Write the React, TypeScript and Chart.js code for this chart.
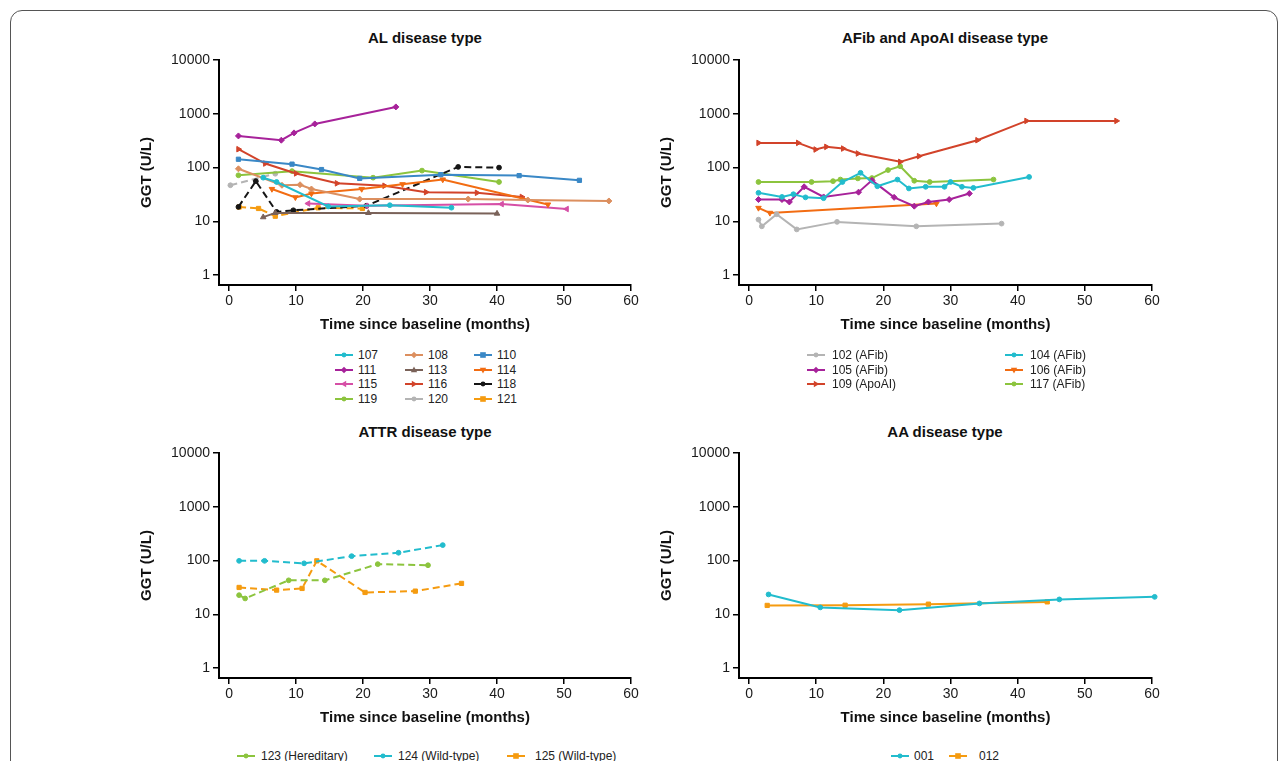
import React, { useEffect, useRef } from "react";
import { Chart, registerables } from "chart.js";
Chart.register(...registerables);

const FONT = "'Liberation Sans', Arial, Helvetica, sans-serif";

const xTickValues = [0, 10, 20, 30, 40, 50, 60];
const yTickValues = [1, 10, 100, 1000, 10000];

// ---------- AL disease type ----------
const al107X = [5.1, 7.1, 14.8, 24.0, 33.2];
const al107Y = [65, 54, 19, 20, 18];
const al108X = [1.4, 7.9, 10.6, 12.3, 19.5, 35.7, 44.6, 56.7];
const al108Y = [95, 47, 48, 40, 26, 26, 25, 24];
const al110X = [1.4, 9.4, 13.8, 19.5, 31.6, 43.3, 52.3];
const al110Y = [143, 116, 92, 63, 74, 71, 58];
const al111X = [1.4, 7.8, 9.7, 12.8, 24.9];
const al111Y = [388, 323, 442, 649, 1343];
const al113X = [5.1, 6.9, 20.8, 40.0];
const al113Y = [12, 14.4, 14.4, 14];
const al114X = [6.4, 9.9, 12.3, 19.8, 25.9, 31.9, 47.6];
const al114Y = [40, 28, 33, 40, 49, 60, 20.6];
const al115X = [11.8, 20.5, 40.7, 50.4];
const al115Y = [21.5, 19.5, 21, 17];
const al116X = [1.4, 5.4, 10, 16.1, 23.2, 29.4, 37, 43.7];
const al116Y = [220, 119, 78, 51, 46, 35, 34, 28.5];
const al118X = [1.4, 4.0, 7.1, 9.6, 20.5, 34.2, 40.3];
const al118Y = [18.6, 56, 15, 16.1, 19.5, 103, 100];
const al119X = [1.4, 9.4, 21.5, 28.8, 40.3];
const al119Y = [72, 86, 65, 88, 54];
const al120X = [0.2, 6.9];
const al120Y = [47, 77];
const al121X = [1.5, 4.4, 6.9, 13.3, 19.9];
const al121Y = [18.5, 17.4, 12.5, 17.9, 17.4];

// ---------- AFib and ApoAI disease type ----------
const af102X = [1.4, 1.9, 4.1, 7.1, 13.1, 24.9, 37.6];
const af102Y = [10.8, 8.1, 13.6, 7.1, 9.8, 8.1, 9.1];
const af104X = [1.4, 4.9, 6.6, 8.4, 11.1, 13.9, 16.6, 19.1, 22.1, 23.8, 26.3, 29.1, 30.0, 31.7, 33.4, 41.7];
const af104Y = [34, 28.5, 32, 28, 27, 54, 80, 45, 60, 41, 44, 44, 54, 44, 42, 67];
const af105X = [1.4, 4.9, 6.0, 8.2, 11.1, 16.3, 18.3, 21.6, 24.6, 26.7, 29.8, 32.8];
const af105Y = [25.5, 25.5, 23, 44, 28.5, 35, 58, 28, 19.2, 23, 25.5, 33];
const af106X = [1.4, 3.1, 27.9];
const af106Y = [17.8, 14.4, 21.5];
const af109X = [1.4, 7.3, 9.9, 11.5, 14.0, 16.2, 22.5, 25.3, 34.0, 41.3, 54.7];
const af109Y = [288, 288, 217, 243, 226, 183, 128, 163, 323, 738, 738];
const af117X = [1.4, 9.3, 12.5, 13.6, 16.2, 18.3, 20.7, 22.5, 24.6, 26.9, 36.4];
const af117Y = [54, 54, 56, 60, 63, 64, 90, 106, 57, 54, 60];

// ---------- ATTR disease type ----------
const at123X = [1.5, 2.4, 8.9, 14.3, 22.2, 29.7];
const at123Y = [22.8, 19.8, 43, 43, 86, 82];
const at124X = [1.5, 5.3, 11.2, 18.3, 25.3, 31.9];
const at124Y = [99, 99, 89, 121, 140, 194];
const at125X = [1.5, 7.1, 10.9, 13.1, 20.3, 27.8, 34.7];
const at125Y = [31.7, 28.3, 30.4, 99, 25.6, 27.1, 37.7];

// ---------- AA disease type ----------
const aa001X = [2.9, 10.6, 22.4, 34.3, 46.2, 60.4];
const aa001Y = [23.5, 13.5, 12, 16, 19, 21.2];
const aa012X = [2.7, 14.3, 26.7, 44.4];
const aa012Y = [14.7, 14.8, 15.5, 17.1];

type Shape = "circle" | "square" | "diamond" | "triUp" | "triDown" | "triLeft" | "triRight";
type Series = { label: string; x: number[]; y: number[]; color: string; shape: Shape; dash?: boolean };

const C = {
  cyan: "#22bccd",
  tan: "#dc8f5f",
  blue: "#3a88c6",
  magenta: "#a7229a",
  brown: "#7a6259",
  orange: "#f26c12",
  pink: "#d64fa6",
  red: "#d2432a",
  black: "#151515",
  green: "#8cc43e",
  grey: "#b4b4b4",
  amber: "#f59b10",
};

const alSeries: Series[] = [
  { label: "107", x: al107X, y: al107Y, color: C.cyan, shape: "circle" },
  { label: "108", x: al108X, y: al108Y, color: C.tan, shape: "diamond" },
  { label: "110", x: al110X, y: al110Y, color: C.blue, shape: "square" },
  { label: "111", x: al111X, y: al111Y, color: C.magenta, shape: "diamond" },
  { label: "113", x: al113X, y: al113Y, color: C.brown, shape: "triUp" },
  { label: "114", x: al114X, y: al114Y, color: C.orange, shape: "triDown" },
  { label: "115", x: al115X, y: al115Y, color: C.pink, shape: "triLeft" },
  { label: "116", x: al116X, y: al116Y, color: C.red, shape: "triRight" },
  { label: "118", x: al118X, y: al118Y, color: C.black, shape: "circle", dash: true },
  { label: "119", x: al119X, y: al119Y, color: C.green, shape: "circle" },
  { label: "120", x: al120X, y: al120Y, color: C.grey, shape: "circle", dash: true },
  { label: "121", x: al121X, y: al121Y, color: C.amber, shape: "square", dash: true },
];

const afSeries: Series[] = [
  { label: "102 (AFib)", x: af102X, y: af102Y, color: C.grey, shape: "circle" },
  { label: "104 (AFib)", x: af104X, y: af104Y, color: C.cyan, shape: "circle" },
  { label: "105 (AFib)", x: af105X, y: af105Y, color: C.magenta, shape: "diamond" },
  { label: "106 (AFib)", x: af106X, y: af106Y, color: C.orange, shape: "triDown" },
  { label: "109 (ApoAI)", x: af109X, y: af109Y, color: C.red, shape: "triRight" },
  { label: "117 (AFib)", x: af117X, y: af117Y, color: C.green, shape: "circle" },
];

const atSeries: Series[] = [
  { label: "123 (Hereditary)", x: at123X, y: at123Y, color: C.green, shape: "circle", dash: true },
  { label: "124 (Wild-type)", x: at124X, y: at124Y, color: C.cyan, shape: "circle", dash: true },
  { label: "125 (Wild-type)", x: at125X, y: at125Y, color: C.amber, shape: "square", dash: true },
];

const aaSeries: Series[] = [
  { label: "001", x: aa001X, y: aa001Y, color: C.cyan, shape: "circle" },
  { label: "012", x: aa012X, y: aa012Y, color: C.amber, shape: "square" },
];

function styleFor(shape: Shape): { pointStyle: any; rot: number; r: number } {
  switch (shape) {
    case "circle": return { pointStyle: "circle", rot: 0, r: 2.4 };
    case "square": return { pointStyle: "rect", rot: 0, r: 3 };
    case "diamond": return { pointStyle: "rectRot", rot: 0, r: 3 };
    case "triUp": return { pointStyle: "triangle", rot: 0, r: 3.2 };
    case "triDown": return { pointStyle: "triangle", rot: 180, r: 3.2 };
    case "triLeft": return { pointStyle: "triangle", rot: 270, r: 3.2 };
    case "triRight": return { pointStyle: "triangle", rot: 90, r: 3.2 };
  }
}

type PanelProps = { series: Series[]; left: number; top: number; padRight: number };

function PanelChart({ series, left, top, padRight }: PanelProps) {
  const ref = useRef<HTMLCanvasElement | null>(null);
  useEffect(() => {
    if (!ref.current) return;
    const tickFont = { family: FONT, size: 14 };
    const titleFont = { family: FONT, size: 15, weight: "bold" as const };
    const chart = new Chart(ref.current, {
      type: "line",
      data: {
        datasets: series.map((s) => {
          const st = styleFor(s.shape);
          return {
            label: s.label,
            data: s.x.map((x, i) => ({ x, y: s.y[i] })),
            borderColor: s.color,
            backgroundColor: s.color,
            borderWidth: 2,
            borderDash: s.dash ? [7, 4] : [],
            pointStyle: st.pointStyle,
            pointRotation: st.rot,
            pointRadius: st.r,
            pointBorderWidth: 1,
            tension: 0,
            fill: false,
            clip: false as any,
          };
        }),
      },
      options: {
        responsive: false,
        animation: false,
        events: [],
        layout: { padding: { left: 0, right: padRight, top: 40, bottom: 0 } },
        plugins: { legend: { display: false }, tooltip: { enabled: false }, title: { display: false } },
        scales: {
          x: {
            type: "linear",
            min: -1.5,
            max: 60,
            afterBuildTicks: (s: any) => { s.ticks = xTickValues.map((v) => ({ value: v })); },
            afterFit: (s: any) => { s.height = 55; },
            ticks: { font: tickFont, color: "#1a1a1a", padding: 2, autoSkip: false, maxRotation: 0 },
            grid: { display: true, drawOnChartArea: false, drawTicks: true, tickLength: 6, color: "#000", lineWidth: 1.5 },
            border: { display: true, color: "#000", width: 2 },
            title: { display: true, text: "Time since baseline (months)", font: titleFont, color: "#111", padding: { top: 0, bottom: 6 } },
          },
          y: {
            type: "logarithmic",
            min: 0.658,
            max: 10000,
            afterBuildTicks: (s: any) => { s.ticks = yTickValues.map((v) => ({ value: v })); },
            afterFit: (s: any) => { s.width = 99; },
            ticks: { font: tickFont, color: "#1a1a1a", padding: 3, autoSkip: false, callback: (v: any) => String(v) },
            grid: { display: true, drawOnChartArea: false, drawTicks: true, tickLength: 6, color: "#000", lineWidth: 1.5 },
            border: { display: true, color: "#000", width: 2 },
            title: { display: true, text: "GGT (U/L)", font: titleFont, color: "#111", padding: { top: 18, bottom: 0 } },
          },
        },
      } as any,
    });
    return () => chart.destroy();
  }, [series, padRight]);
  return (
    <canvas
      ref={ref}
      width={530}
      height={320}
      style={{ position: "absolute", left, top, width: 530, height: 320 }}
    />
  );
}

function Marker({ shape, color }: { shape: Shape; color: string }) {
  const cx = 9, cy = 5;
  let m: React.ReactNode = null;
  if (shape === "circle") m = <circle cx={cx} cy={cy} r={2.4} fill={color} />;
  else if (shape === "square") m = <rect x={cx - 2.8} y={cy - 2.8} width={5.6} height={5.6} fill={color} />;
  else if (shape === "diamond") m = <polygon points={`${cx},${cy - 3.3} ${cx + 3.3},${cy} ${cx},${cy + 3.3} ${cx - 3.3},${cy}`} fill={color} />;
  else {
    const rot = shape === "triUp" ? 0 : shape === "triDown" ? 180 : shape === "triRight" ? 90 : 270;
    m = <polygon points={`${cx},${cy - 3.4} ${cx + 3.2},${cy + 2.2} ${cx - 3.2},${cy + 2.2}`} fill={color} transform={`rotate(${rot} ${cx} ${cy})`} />;
  }
  return (
    <svg width={18} height={10} style={{ position: "absolute", left: 0, top: -5 }}>
      <line x1={0} y1={cy} x2={18} y2={cy} stroke={color} strokeWidth={2} />
      {m}
    </svg>
  );
}

type LegendPos = { x: number; y: number; tx: number };

function LegendItem({ s, p }: { s: Series; p: LegendPos }) {
  return (
    <div style={{ position: "absolute", left: p.x, top: p.y, height: 0 }}>
      <Marker shape={s.shape} color={s.color} />
      <span
        style={{
          position: "absolute",
          left: p.tx - p.x,
          top: -8,
          fontFamily: FONT,
          fontSize: 12,
          lineHeight: "16px",
          color: "#222",
          whiteSpace: "nowrap",
        }}
      >
        {s.label}
      </span>
    </div>
  );
}

const alLegendCols = [335, 405, 474];
const alLegendRows = [355, 370, 384, 399];
const afLegendCols = [807, 1005];
const afLegendRows = [355, 370, 384];

function Title({ text, x, y }: { text: string; x: number; y: number }) {
  return (
    <div
      style={{
        position: "absolute",
        left: x,
        top: y,
        transform: "translate(-50%, -50%)",
        fontFamily: FONT,
        fontWeight: "bold",
        fontSize: 15,
        color: "#111",
        whiteSpace: "nowrap",
      }}
    >
      {text}
    </div>
  );
}

export default function App() {
  const alPos: LegendPos[] = alSeries.map((_, i) => {
    const c = i % 3, r = Math.floor(i / 3);
    return { x: alLegendCols[c], y: alLegendRows[r], tx: alLegendCols[c] + 23 };
  });
  const afPos: LegendPos[] = afSeries.map((_, i) => {
    const c = i % 2, r = Math.floor(i / 2);
    return { x: afLegendCols[c], y: afLegendRows[r], tx: afLegendCols[c] + 25 };
  });
  const atPos: LegendPos[] = [
    { x: 237, y: 756, tx: 261 },
    { x: 374, y: 756, tx: 398 },
    { x: 507, y: 756, tx: 535 },
  ];
  const aaPos: LegendPos[] = [
    { x: 891, y: 756, tx: 914 },
    { x: 949, y: 756, tx: 979 },
  ];
  return (
    <div style={{ position: "fixed", left: 0, top: 0, width: 1285, height: 761, overflow: "hidden", background: "#fff" }}>
      <div
        style={{
          position: "absolute",
          left: 10,
          top: 10,
          width: 1268,
          height: 820,
          border: "1px solid #555",
          borderRadius: 12,
          boxSizing: "border-box",
        }}
      />
      <Title text="AL disease type" x={425} y={37} />
      <Title text="AFib and ApoAI disease type" x={945} y={37} />
      <Title text="ATTR disease type" x={425} y={431} />
      <Title text="AA disease type" x={945} y={431} />
      <PanelChart series={alSeries} left={120} top={20} padRight={19} />
      <PanelChart series={afSeries} left={640} top={20} padRight={18} />
      <PanelChart series={atSeries} left={120} top={413} padRight={19} />
      <PanelChart series={aaSeries} left={640} top={413} padRight={18} />
      {alSeries.map((s, i) => <LegendItem key={"al" + i} s={s} p={alPos[i]} />)}
      {afSeries.map((s, i) => <LegendItem key={"af" + i} s={s} p={afPos[i]} />)}
      {atSeries.map((s, i) => <LegendItem key={"at" + i} s={s} p={atPos[i]} />)}
      {aaSeries.map((s, i) => <LegendItem key={"aa" + i} s={s} p={aaPos[i]} />)}
    </div>
  );
}
